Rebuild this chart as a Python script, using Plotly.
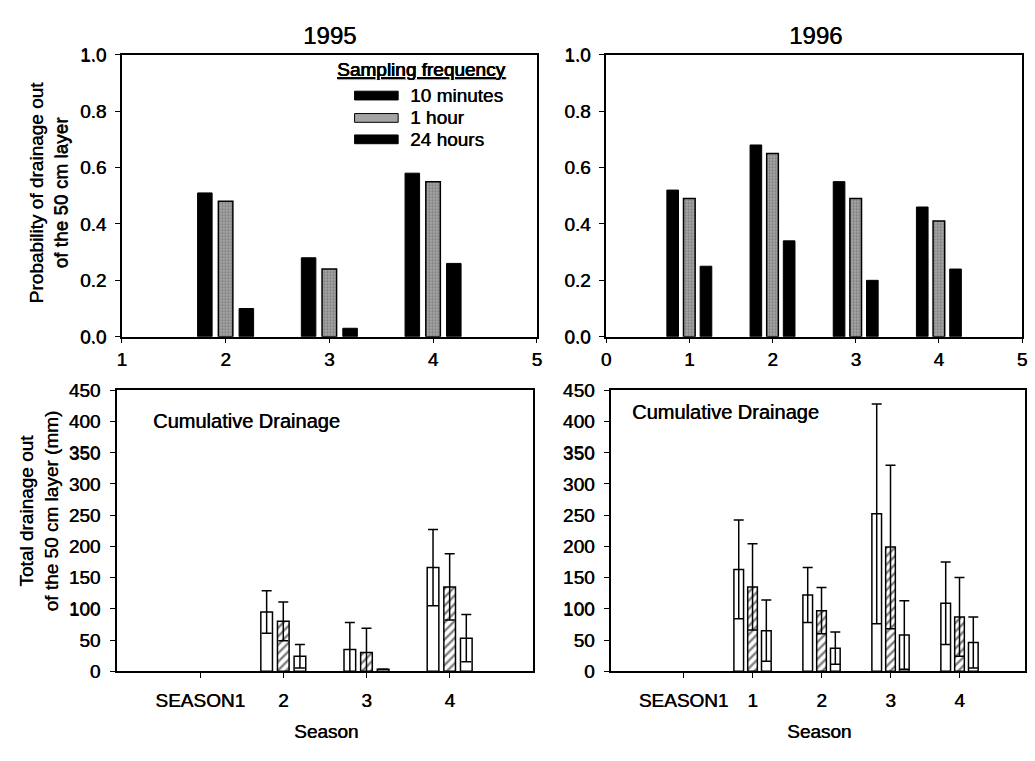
import plotly.graph_objects as go

# ---- data -------------------------------------------------------------
freq_labels = ["10 minutes", "1 hour", "24 hours"]

# probability of drainage out of the 50 cm layer
seasons_1995 = [2, 3, 4]
prob_1995_10min = [0.51, 0.28, 0.58]
prob_1995_1h = [0.48, 0.24, 0.55]
prob_1995_24h = [0.10, 0.03, 0.26]

seasons_1996 = [1, 2, 3, 4]
prob_1996_10min = [0.52, 0.68, 0.55, 0.46]
prob_1996_1h = [0.49, 0.65, 0.49, 0.41]
prob_1996_24h = [0.25, 0.34, 0.20, 0.24]

# cumulative drainage (mm), mean and standard deviation
cat_1995 = ["SEASON1", "2", "3", "4"]
drain_seasons_1995 = ["2", "3", "4"]
drain_1995_10min = [95, 35, 166]
sd_1995_10min = [34, 43, 61]
drain_1995_1h = [80, 30, 135]
sd_1995_1h = [31, 39, 53]
drain_1995_24h = [24, 3, 53]
sd_1995_24h = [19, 0, 38]

cat_1996 = ["SEASON1", "1", "2", "3", "4"]
drain_seasons_1996 = ["1", "2", "3", "4"]
drain_1996_10min = [163, 122, 252, 109]
sd_1996_10min = [79, 44, 176, 66]
drain_1996_1h = [135, 97, 199, 87]
sd_1996_1h = [69, 37, 131, 63]
drain_1996_24h = [65, 37, 58, 46]
sd_1996_24h = [49, 26, 55, 41]

# ---- layout helpers ---------------------------------------------------
W, H = 1035, 761
FAMILY = "Liberation Sans, Arial, sans-serif"
FS = 19
INK = "0.5px 0.2px 0 #000"  # slightly heavier strokes, like photocopied print


def font(size=FS):
    return dict(family=FAMILY, size=size, color="black", shadow=INK)


def px_x(p):
    return p / W


def px_y(p):
    return 1 - p / H


fig = go.Figure()

black_bar = dict(color="black", line=dict(color="black", width=1))
gray_bar = dict(color="#a4a4a4", line=dict(color="black", width=1.5),
                pattern=dict(shape=".", fgcolor="#4a4a4a", size=3, solidity=0.35))
open_bar = dict(color="white", line=dict(color="black", width=1.5))
hatch_bar = dict(color="white", line=dict(color="black", width=1.5),
                 pattern=dict(shape="/", fgcolor="black", size=6, solidity=0.4))


def err(sd):
    return dict(type="data", array=sd, visible=True, color="black",
                thickness=1.5, width=5)


# top panels: probability
for xs, vals, style, ax in [
    (seasons_1995, prob_1995_10min, black_bar, ("x", "y")),
    (seasons_1995, prob_1995_1h, gray_bar, ("x", "y")),
    (seasons_1995, prob_1995_24h, black_bar, ("x", "y")),
    (seasons_1996, prob_1996_10min, black_bar, ("x2", "y2")),
    (seasons_1996, prob_1996_1h, gray_bar, ("x2", "y2")),
    (seasons_1996, prob_1996_24h, black_bar, ("x2", "y2")),
]:
    fig.add_trace(go.Bar(x=xs, y=vals, marker=style, xaxis=ax[0], yaxis=ax[1],
                         showlegend=False))

# bottom panels: cumulative drainage
for xs, vals, sd, style, ax in [
    (drain_seasons_1995, drain_1995_10min, sd_1995_10min, open_bar, ("x3", "y3")),
    (drain_seasons_1995, drain_1995_1h, sd_1995_1h, hatch_bar, ("x3", "y3")),
    (drain_seasons_1995, drain_1995_24h, sd_1995_24h, open_bar, ("x3", "y3")),
    (drain_seasons_1996, drain_1996_10min, sd_1996_10min, open_bar, ("x4", "y4")),
    (drain_seasons_1996, drain_1996_1h, sd_1996_1h, hatch_bar, ("x4", "y4")),
    (drain_seasons_1996, drain_1996_24h, sd_1996_24h, open_bar, ("x4", "y4")),
]:
    fig.add_trace(go.Bar(x=xs, y=vals, marker=style, error_y=err(sd),
                         xaxis=ax[0], yaxis=ax[1], showlegend=False))

axis_common = dict(showline=True, linecolor="black", linewidth=1.5, mirror=True,
                   ticks="outside", ticklen=5, tickwidth=1.2, tickcolor="black",
                   showgrid=False, zeroline=False, tickfont=font())

# panel boxes in pixels: (left, right, top, bottom)
boxes = {
    "tl": (118, 537, 46, 336),
    "tr": (607, 1027, 46, 336),
    "bl": (113, 533, 391, 680),
    "br": (612, 1030, 391, 680),
}


def dom(b):
    l, r, t, bt = boxes[b]
    return [px_x(l), px_x(r)], [px_y(bt), px_y(t)]


xd, yd = dom("tl")
fig.update_layout(
    xaxis=dict(domain=xd, range=[1, 5], tickvals=[1, 2, 3, 4, 5], anchor="y",
               **axis_common),
    yaxis=dict(domain=yd, range=[0, 1], dtick=0.2, tickformat=".1f", anchor="x",
               ticklabelstandoff=5, **axis_common),
)
xd, yd = dom("tr")
fig.update_layout(
    xaxis2=dict(domain=xd, range=[0, 5], tickvals=[0, 1, 2, 3, 4, 5], anchor="y2",
                **axis_common),
    yaxis2=dict(domain=yd, range=[0, 1], dtick=0.2, tickformat=".1f", anchor="x2",
                ticklabelstandoff=5, **axis_common),
)
xd, yd = dom("bl")
fig.update_layout(
    xaxis3=dict(domain=xd, type="category", categoryorder="array", categoryarray=cat_1995,
                tickvals=cat_1995, range=[-1, 4], anchor="y3", ticklabelstandoff=6,
                **axis_common),
    yaxis3=dict(domain=yd, range=[0, 450], dtick=50, anchor="x3", ticklabelstandoff=6,
                **axis_common),
)
xd, yd = dom("br")
fig.update_layout(
    xaxis4=dict(domain=xd, type="category", categoryorder="array", categoryarray=cat_1996,
                tickvals=cat_1996, range=[-1.05, 4.95], anchor="y4", ticklabelstandoff=6,
                **axis_common),
    yaxis4=dict(domain=yd, range=[0, 450], dtick=50, anchor="x4", ticklabelstandoff=6,
                **axis_common),
)

fig.update_layout(
    width=W, height=H, margin=dict(l=0, r=0, t=0, b=0),
    paper_bgcolor="white", plot_bgcolor="white",
    barmode="group", bargap=0.4, bargroupgap=0.3,
    font=dict(family=FAMILY, color="black"),
    showlegend=False,
)


def label(text, x, y, size=FS, angle=0, xanchor="center"):
    fig.add_annotation(text=text, x=px_x(x), y=px_y(y), xref="paper", yref="paper",
                       showarrow=False, textangle=angle, xanchor=xanchor, yanchor="middle",
                       font=font(size))


label("1995", 328, 26, size=24)
label("1996", 818, 26, size=24)
label("Probability of drainage out<br>of the 50 cm layer", 44, 188, angle=-90)
label("Total drainage out<br>of the 50 cm layer (mm)", 34, 515, angle=-90)
label("Season", 324, 742)
label("Season", 822, 742)
label("Cumulative Drainage", 147, 423, size=20, xanchor="left")
label("Cumulative Drainage", 631, 413, size=20, xanchor="left")

# sampling-frequency key
label("<u>Sampling frequency</u>", 420, 61)
key_rows = [88, 111, 133]
key_fill = ["black", "#a4a4a4", "black"]
for yy, fill, name in zip(key_rows, key_fill, freq_labels):
    fig.add_shape(type="rect", xref="paper", yref="paper",
                  x0=px_x(353), x1=px_x(397), y0=px_y(yy + 4.5), y1=px_y(yy - 4.5),
                  fillcolor=fill, line=dict(color="black", width=1))
    label(name, 407, yy, xanchor="left")

fig.write_html("out.html")
